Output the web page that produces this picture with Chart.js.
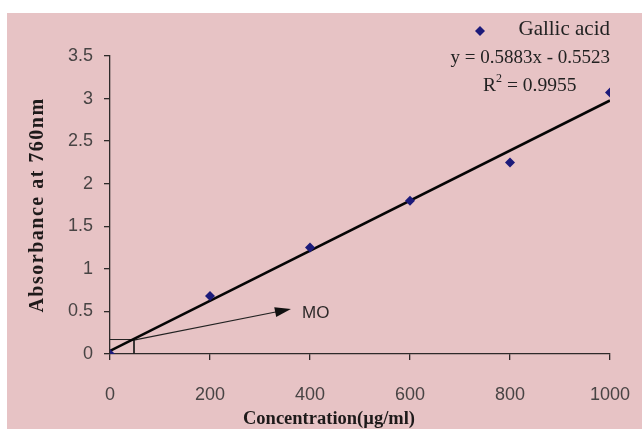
<!DOCTYPE html>
<html>
<head>
<meta charset="utf-8">
<script src="https://cdn.jsdelivr.net/npm/chart.js@4.4.1/dist/chart.umd.min.js"></script>
<style>
  html, body { margin: 0; padding: 0; background: #fff; }
  #wrap { position: absolute; left: 7px; top: 13px; width: 635px; height: 416px; background: #e7c3c5; }
</style>
</head>
<body>
<div id="wrap"><canvas id="chart"></canvas></div>
<script>
/* ---- data ---- */
const concentration = [0, 200, 400, 600, 800, 1000];
const absorbance    = [0, 0.68, 1.25, 1.80, 2.25, 3.07];

// fitted line end points (Excel trendline)
const trendX = [0, 1000];
const trendY = [0.036, 2.977];

// "MO" box and arrow
const boxX   = [0, 48, 48];
const boxY   = [0.17, 0.17, 0];
const arrowX = [45, 354];
const arrowY = [0.16, 0.52];

const xTicks = [0, 200, 400, 600, 800, 1000];
const yTicks = [0, 0.5, 1, 1.5, 2, 2.5, 3, 3.5];

const legendLabel = "Gallic acid";
const equationText = "y = 0.5883x - 0.5523";
const r2Text = "0.9955";
const xTitle = "Concentration(\u00b5g/ml)";
const yTitle = "Absorbance at 760nm";
const moText = "MO";

const INK = "#2e2a2a";
const MARK = "#1c1a7a";
const SERIF = "'Liberation Serif', 'DejaVu Serif', serif";
const SANS = "'Liberation Sans', Arial, sans-serif";

const pts = (xs, ys) => xs.map((x, i) => ({ x, y: ys[i] }));

/* ---- extra drawing: arrowhead, titles, legend text ---- */
const decor = {
  id: "decor",
  afterDatasetsDraw(chart) {
    const { ctx, scales: { x, y } } = chart;
    ctx.save();

    // arrow head at end of arrow dataset
    const x0 = x.getPixelForValue(arrowX[0]), y0 = y.getPixelForValue(arrowY[0]);
    const x1 = x.getPixelForValue(arrowX[1]), y1 = y.getPixelForValue(arrowY[1]);
    const a = Math.atan2(y1 - y0, x1 - x0);
    ctx.fillStyle = "#111";
    ctx.beginPath();
    ctx.moveTo(x1 + 4 * Math.cos(a), y1 + 4 * Math.sin(a));
    ctx.lineTo(x1 - 12 * Math.cos(a) + 5 * Math.sin(a), y1 - 12 * Math.sin(a) - 5 * Math.cos(a));
    ctx.lineTo(x1 - 12 * Math.cos(a) - 5 * Math.sin(a), y1 - 12 * Math.sin(a) + 5 * Math.cos(a));
    ctx.closePath();
    ctx.fill();

    // MO label
    ctx.fillStyle = INK;
    ctx.font = "17px " + SANS;
    ctx.textBaseline = "middle";
    ctx.textAlign = "left";
    ctx.fillText(moText, x1 + 15, y1 + 4);

    // legend + equation
    ctx.fillStyle = MARK;
    const lx = 473, ly = 18;
    ctx.beginPath();
    ctx.moveTo(lx, ly - 5); ctx.lineTo(lx + 5, ly); ctx.lineTo(lx, ly + 5); ctx.lineTo(lx - 5, ly);
    ctx.closePath(); ctx.fill();

    ctx.fillStyle = "#222";
    ctx.font = "21px " + SERIF;
    ctx.textAlign = "right";
    ctx.fillText(legendLabel, 603, 16);
    ctx.font = "19px " + SERIF;
    ctx.fillText(equationText, 603, 45);
    // R² with superscript
    ctx.textAlign = "left";
    let rx = 476;
    ctx.font = "19.5px " + SERIF;
    ctx.fillText("R", rx, 73);
    rx += ctx.measureText("R").width;
    ctx.font = "12px " + SERIF;
    ctx.fillText("2", rx, 66);
    rx += ctx.measureText("2").width;
    ctx.font = "19.5px " + SERIF;
    ctx.fillText(" = " + r2Text, rx, 73);

    // axis titles
    ctx.fillStyle = "#1e1a1a";
    ctx.font = "bold 18.5px " + SERIF;
    ctx.textAlign = "center";
    ctx.fillText(xTitle, 322, 406);
    ctx.font = "bold 20px " + SERIF;
    ctx.letterSpacing = "1.5px";
    ctx.translate(31, (chart.chartArea.top + chart.chartArea.bottom) / 2);
    ctx.rotate(-Math.PI / 2);
    ctx.fillText(yTitle, 0, 0);
    ctx.restore();
  }
};

new Chart(document.getElementById("chart"), {
  type: "scatter",
  data: {
    datasets: [
      {
        label: "box", data: pts(boxX, boxY), showLine: true,
        borderColor: "#222", borderWidth: 1, pointRadius: 0, order: 3
      },
      {
        label: "arrow", data: pts(arrowX, arrowY), showLine: true,
        borderColor: "#222", borderWidth: 1.2, pointRadius: 0, order: 3
      },
      {
        label: "trend", data: pts(trendX, trendY), showLine: true,
        borderColor: "#050505", borderWidth: 2.6, pointRadius: 0, order: 2
      },
      {
        label: legendLabel, data: pts(concentration, absorbance),
        pointStyle: "rectRot", pointRadius: 5, pointHoverRadius: 5,
        backgroundColor: MARK, borderColor: MARK, borderWidth: 0, order: 1
      }
    ]
  },
  options: {
    responsive: true,
    maintainAspectRatio: false,
    animation: false,
    layout: { padding: { top: 43, right: 0, left: 0, bottom: 0 } },
    plugins: { legend: { display: false }, tooltip: { enabled: false } },
    scales: {
      x: {
        type: "linear", min: 0, max: 1000,
        afterBuildTicks: s => { s.ticks = xTicks.map(v => ({ value: v })); },
        afterFit: s => { s.height = 75; s.paddingRight = 32; s.paddingLeft = 0; },
        border: { color: INK, width: 1.3 },
        grid: { drawOnChartArea: false, color: INK, tickLength: 6, lineWidth: 1.3 },
        ticks: {
          color: "#484444", font: { family: SANS, size: 18 }, padding: 24, maxRotation: 0,
          callback: v => String(v)
        }
      },
      y: {
        type: "linear", min: 0, max: 3.5,
        afterBuildTicks: s => { s.ticks = yTicks.map(v => ({ value: v })); },
        afterFit: s => { s.width = 103; },
        border: { color: INK, width: 1.3 },
        grid: { drawOnChartArea: false, color: INK, tickLength: 6, lineWidth: 1.3 },
        ticks: {
          color: "#484444", font: { family: SANS, size: 18 }, padding: 11,
          callback: v => String(v)
        }
      }
    }
  },
  plugins: [decor]
});
</script>
</body>
</html>
